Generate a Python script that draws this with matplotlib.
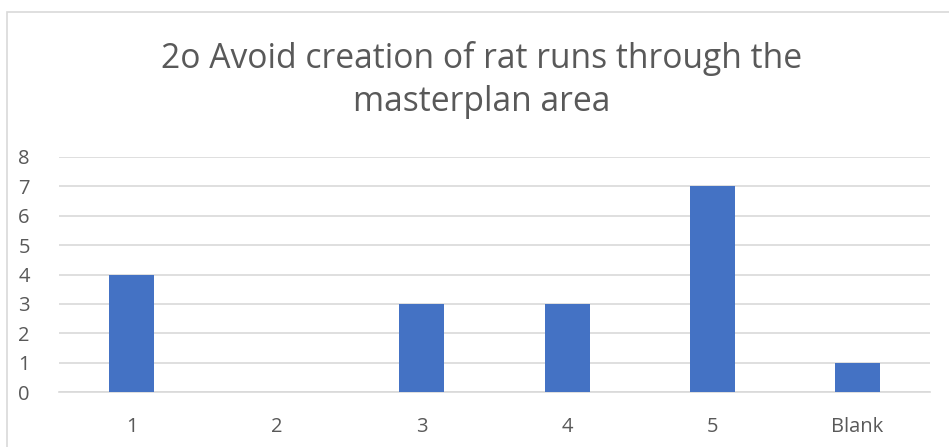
import matplotlib
matplotlib.use("Agg")
import matplotlib.pyplot as plt
from matplotlib.patches import Rectangle

categories = ["1", "2", "3", "4", "5", "Blank"]
counts = [4, 0, 3, 3, 7, 1]
y_ticks = [0, 1, 2, 3, 4, 5, 6, 7, 8]
title = "2o Avoid creation of rat runs through the\nmasterplan area"

plt.rcParams["font.family"] = ["Open Sans", "DejaVu Sans"]
text_color = "#595959"
grid_color = "#d9d9d9"
bar_color = "#4472c4"

W, H = 949, 447
fig = plt.figure(figsize=(W / 100, H / 100), dpi=100)

# chart frame
fig.patches.append(Rectangle((7 / W, -0.05), 1.0, 1 - 12 / H + 0.05,
                             transform=fig.transFigure, fill=False,
                             edgecolor=grid_color, linewidth=1.2))

ax = fig.add_axes([59 / W, 1 - 392 / H, (930 - 59) / W, (392 - 157) / H])
x = list(range(len(categories)))
ax.bar(x, counts, width=0.31, color=bar_color, zorder=3)

ax.set_xlim(-0.5, len(categories) - 0.5)
ax.set_ylim(0, 8)
ax.set_yticks(y_ticks)
ax.set_xticks(x)
ax.set_xticklabels(categories)
ax.yaxis.grid(True, color=grid_color, linewidth=1.2, zorder=0)
ax.set_axisbelow(True)
for s in ["top", "right", "left"]:
    ax.spines[s].set_visible(False)
ax.spines["bottom"].set_color(grid_color)
ax.spines["bottom"].set_linewidth(1.2)
ax.tick_params(axis="both", length=0, colors=text_color, labelsize=14.5)
ax.tick_params(axis="y", pad=21)
ax.tick_params(axis="x", pad=18)

fig.text(482 / W, 1 - 80 / H, title, ha="center", va="center",
         fontsize=24.2, color=text_color, linespacing=1.33)

fig.savefig("out.png", dpi=100, facecolor="white")
